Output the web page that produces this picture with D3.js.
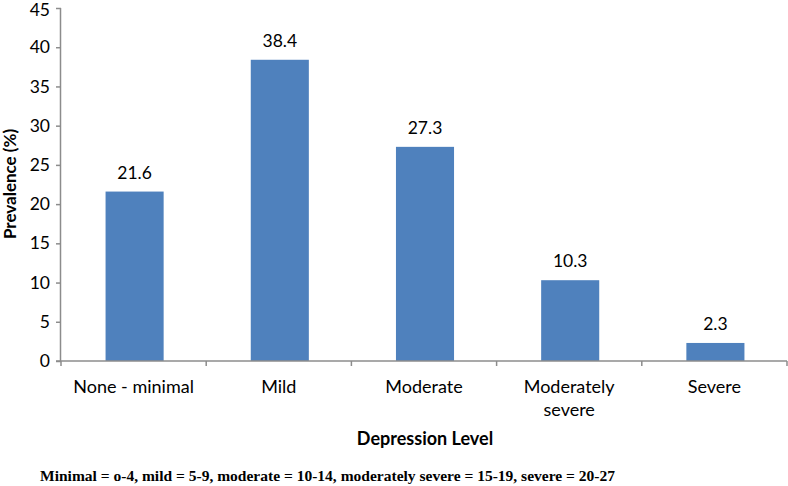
<!DOCTYPE html>
<html>
<head>
<meta charset="utf-8">
<script src="https://cdn.jsdelivr.net/npm/d3@7"></script>
<style>
  body { margin: 0; background: #fff; }
  svg { display: block; }
</style>
</head>
<body>
<svg id="chart" width="788" height="486"></svg>
<script>
const categories = [['None - minimal'], ['Mild'], ['Moderate'], ['Moderately', 'severe'], ['Severe']];
const prevalence = [21.6, 38.4, 27.3, 10.3, 2.3];
const yTicks = [0, 5, 10, 15, 20, 25, 30, 35, 40, 45];

const svg = d3.select('#chart');
const plotL = 61, plotR = 787, plotT = 8, plotB = 361;
const font = 'Lato, "Open Sans", sans-serif';

const x = d3.scaleBand().domain(d3.range(categories.length)).range([plotL, plotR]).paddingInner(0).paddingOuter(0);
const y = d3.scaleLinear().domain([0, 45]).range([plotB, plotT]);

// y axis
const gy = svg.append('g').attr('transform', `translate(${plotL},0)`)
  .call(d3.axisLeft(y).tickValues(yTicks).tickSize(5).tickPadding(6));
gy.select('.domain').attr('stroke', '#8c8c8c').attr('stroke-width', 1.5).attr('d', `M-0.5,${plotT}V${plotB}`);
gy.selectAll('.tick line').attr('stroke', '#8c8c8c').attr('stroke-width', 1.5);
gy.selectAll('.tick text').attr('font-family', font).attr('font-size', 17.5).attr('fill', '#000');
// keep the top label inside the picture
gy.selectAll('.tick text').filter(d => d === 45).attr('dy', '0.42em');

// bars
const bw = x.bandwidth() * 0.4;
svg.append('g').selectAll('rect').data(prevalence).enter().append('rect')
  .attr('x', (d, i) => x(i) + x.bandwidth() / 2 - bw / 2 + 1)
  .attr('y', d => y(d))
  .attr('width', bw)
  .attr('height', d => y(0) - y(d))
  .attr('fill', '#4f81bd');

// value labels
svg.append('g').selectAll('text').data(prevalence).enter().append('text')
  .attr('x', (d, i) => x(i) + x.bandwidth() / 2 + 1)
  .attr('y', d => y(d) - 13)
  .attr('text-anchor', 'middle')
  .attr('font-family', font).attr('font-size', 17.5)
  .text(d => d.toFixed(1));

// x axis
const gx = svg.append('g').attr('transform', `translate(0,${plotB})`);
gx.append('line').attr('x1', plotL - 5).attr('x2', plotR).attr('y1', 0).attr('y2', 0)
  .attr('stroke', '#8c8c8c').attr('stroke-width', 1.5);
const bounds = d3.range(categories.length + 1).map(i => i < categories.length ? x(i) : x(i - 1) + x.bandwidth());
gx.selectAll('line.tk').data(bounds).enter().append('line').attr('class', 'tk')
  .attr('x1', d => d).attr('x2', d => d).attr('y1', 0).attr('y2', 5)
  .attr('stroke', '#8c8c8c').attr('stroke-width', 1.5);
const lab = gx.selectAll('text.cat').data(categories).enter().append('text').attr('class', 'cat')
  .attr('x', (d, i) => x(i) + x.bandwidth() / 2)
  .attr('y', 32)
  .attr('text-anchor', 'middle')
  .attr('font-family', font).attr('font-size', 18);
lab.selectAll('tspan').data(d => d).enter().append('tspan')
  .attr('x', function () { return this.parentNode.getAttribute('x'); })
  .attr('dy', (d, i) => i === 0 ? 0 : 23)
  .text(d => d);

// axis titles
svg.append('text').attr('x', 425).attr('y', 445).attr('text-anchor', 'middle')
  .attr('font-family', font).attr('font-size', 18).attr('font-weight', 'bold')
  .text('Depression Level');
svg.append('text').attr('transform', 'translate(16,184) rotate(-90)').attr('text-anchor', 'middle')
  .attr('font-family', font).attr('font-size', 17).attr('font-weight', 'bold')
  .text('Prevalence (%)');

// footnote
svg.append('text').attr('x', 40).attr('y', 481)
  .attr('font-family', '"Liberation Serif", "Times New Roman", serif').attr('font-size', 15.5).attr('font-weight', 'bold')
  .attr('textLength', 575).attr('lengthAdjust', 'spacingAndGlyphs')
  .text('Minimal = o-4, mild = 5-9, moderate = 10-14, moderately severe = 15-19, severe = 20-27');
</script>
</body>
</html>
